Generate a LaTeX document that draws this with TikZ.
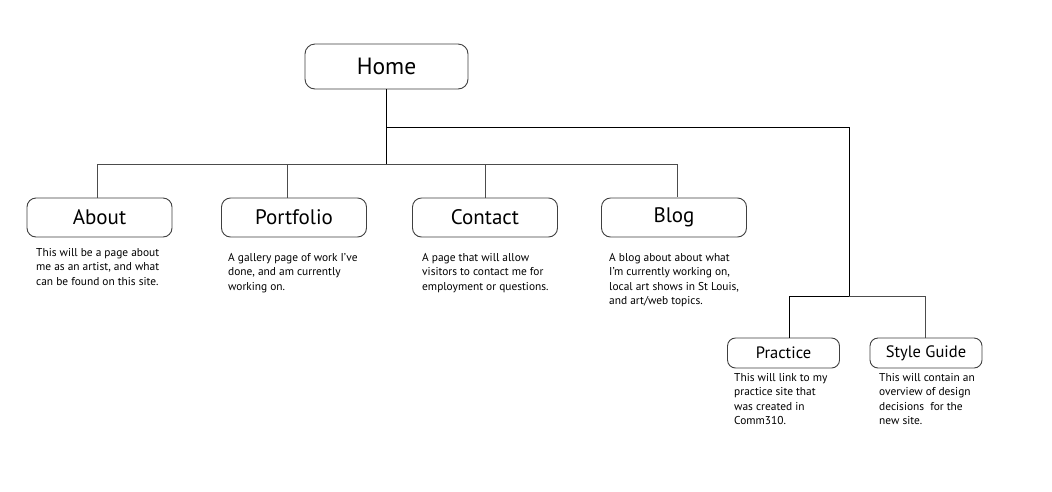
\documentclass[tikz,border=0pt]{standalone}
\usepackage{fontspec}
\setmainfont{PT Sans}
\begin{document}
\begin{tikzpicture}[x=1pt,y=-1pt,
  box/.style={draw=black!75,line width=0.9pt,rounded corners=9pt,inner sep=0pt,text=black},
  bigbox/.style={box,minimum width=145pt,minimum height=39pt,font=\fontsize{21}{23}\selectfont},
  smallbox/.style={box,minimum width=112pt,minimum height=30pt,rounded corners=8pt,font=\fontsize{16.5}{18}\selectfont},
  desc/.style={anchor=north west,inner sep=0pt,align=left,font=\fontsize{11.4}{14.5}\selectfont},
  link/.style={draw=black!70,line width=0.9pt},
  toplink/.style={draw=black,line width=0.9pt}]
\useasboundingbox (0,0) rectangle (1052,491);
\fill[white] (0,0) rectangle (1052,491);

\node[box,minimum width=163pt,minimum height=45pt,rounded corners=10pt,font=\fontsize{23.5}{25}\selectfont] (home) at (386.5,66.5) {Home};

\node[bigbox] (about) at (99.5,217.5) {About};
\node[bigbox] (portfolio) at (294,217.5) {Portfolio};
\node[bigbox] (contact) at (485,217.5) {Contact};
\node[bigbox] (blog) at (674,217.5) {Blog};
\node[smallbox] (practice) at (783.5,353) {Practice};
\node[smallbox] (style) at (926,353) {Style Guide};

\node[desc] (aboutd) at (36,248) {This will be a page about\\me as an artist, and what\\can be found on this site.};
\node[desc] (portfoliod) at (228,253) {A gallery page of work I’ve\\done, and am currently\\working on.};
\node[desc] (contactd) at (422,253) {A page that will allow\\visitors to contact me for\\employment or questions.};
\node[desc] (blogd) at (609,253) {A blog about about what\\I’m currently working on,\\local art shows in St Louis,\\and art/web topics.};
\node[desc] (practiced) at (734,373) {This will link to my\\practice site that\\was created in\\Comm310.};
\node[desc] (styled) at (879,373) {This will contain an\\overview of design\\decisions\ \ for the\\new site.};

\coordinate (hb) at (386.5,164);
\coordinate (rb) at (386.5,127);
\coordinate (rc) at (849,127);
\coordinate (sb) at (849,296);
\coordinate (ain) at (97,198);
\coordinate (poin) at (287,198);
\coordinate (cin) at (485,198);
\coordinate (bin) at (677,197);
\coordinate (pin) at (789,338);
\coordinate (sin) at (925,338);

\draw[toplink] (home.south) -- (hb);
\draw[toplink] (rb) -- (rc) -- (sb);
\draw[link] (hb) -| (ain);
\draw[link] (hb) -| (bin);
\draw[link] (hb -| poin) -- (poin);
\draw[link] (hb -| cin) -- (cin);
\draw[toplink] (sb) -| (pin);
\draw[link] (sb) -| (sin);
\end{tikzpicture}
\end{document}
